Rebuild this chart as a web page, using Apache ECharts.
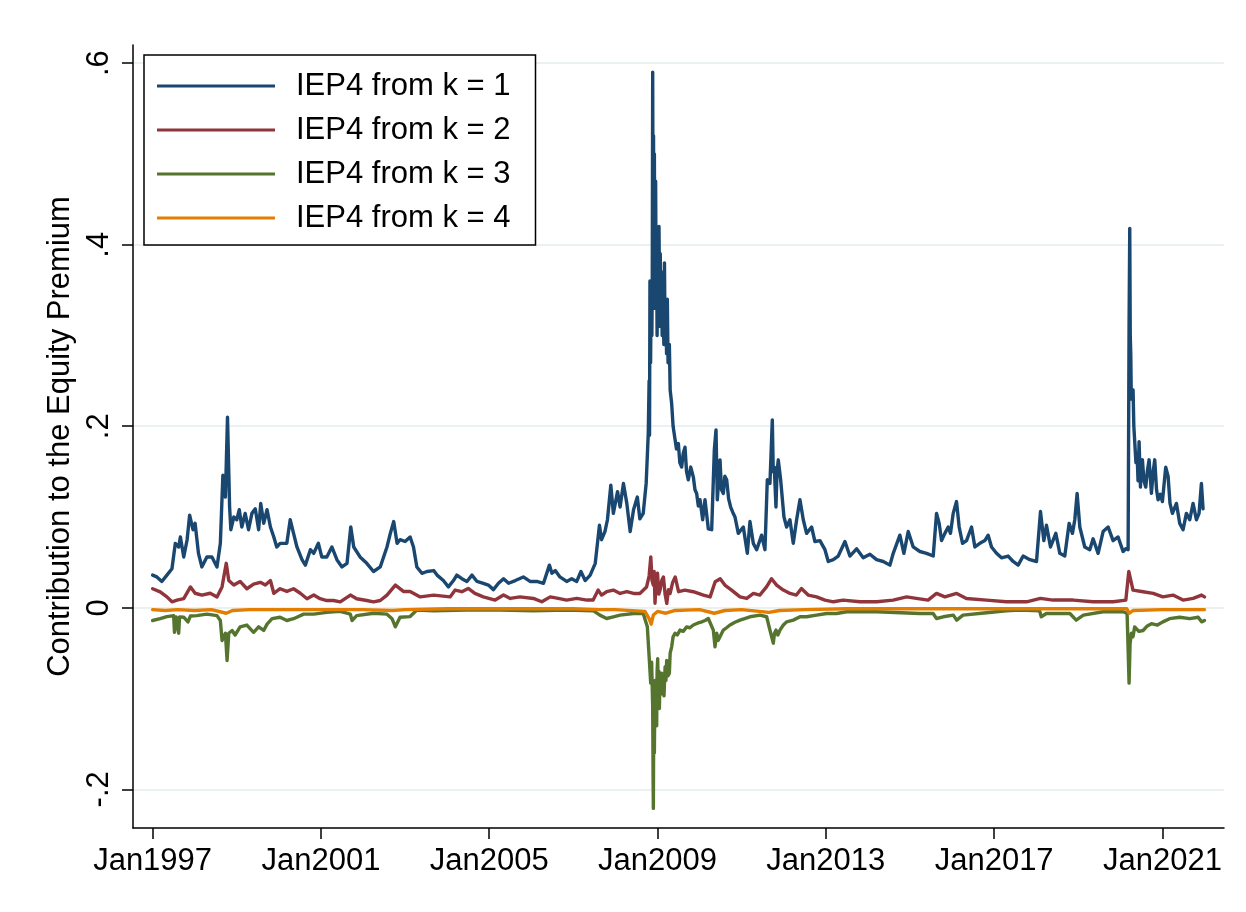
<!DOCTYPE html>
<html>
<head>
<meta charset="utf-8">
<script src="https://cdn.jsdelivr.net/npm/echarts@6/dist/echarts.min.js"></script>
<style>
html,body{margin:0;padding:0;background:#fff;}
#chart{width:1246px;height:912px;}
</style>
</head>
<body>
<div id="chart"></div>
<script>
// ---- DATA (year as decimal, value) ----
var seriesNames = ["IEP4 from k = 1", "IEP4 from k = 2", "IEP4 from k = 3", "IEP4 from k = 4"];
var xTickYears = [1997, 2001, 2005, 2009, 2013, 2017, 2021];
var yTicks = [-0.2, 0, 0.2, 0.4, 0.6];

var k1 = [
[1997.00,.036],[1997.10,.034],[1997.22,.029],[1997.34,.036],[1997.46,.043],[1997.54,.071],[1997.62,.067],[1997.66,.078],[1997.74,.056],[1997.82,.075],[1997.88,.102],[1997.96,.086],[1998.01,.093],[1998.09,.060],[1998.17,.045],[1998.29,.056],[1998.41,.056],[1998.53,.045],[1998.61,.071],[1998.67,.146],[1998.73,.122],[1998.78,.210],[1998.83,.111],[1998.86,.086],[1998.93,.100],[1999.00,.097],[1999.06,.108],[1999.12,.089],[1999.20,.104],[1999.28,.086],[1999.36,.104],[1999.44,.109],[1999.52,.086],[1999.57,.115],[1999.64,.093],[1999.72,.108],[1999.80,.089],[1999.88,.078],[1999.95,.067],[2000.03,.071],[2000.19,.071],[2000.27,.097],[2000.35,.082],[2000.43,.067],[2000.55,.053],[2000.63,.047],[2000.75,.064],[2000.83,.060],[2000.94,.071],[2001.02,.056],[2001.14,.056],[2001.26,.067],[2001.38,.053],[2001.50,.045],[2001.62,.049],[2001.71,.089],[2001.78,.067],[2001.93,.056],[2002.09,.049],[2002.25,.040],[2002.41,.045],[2002.57,.067],[2002.65,.082],[2002.73,.095],[2002.81,.071],[2002.88,.075],[2003.00,.073],[2003.12,.078],[2003.20,.067],[2003.28,.045],[2003.40,.038],[2003.52,.040],[2003.68,.041],[2003.76,.036],[2003.91,.030],[2004.03,.023],[2004.15,.030],[2004.23,.036],[2004.35,.032],[2004.47,.029],[2004.59,.036],[2004.71,.029],[2004.86,.027],[2004.98,.025],[2005.10,.020],[2005.22,.027],[2005.34,.032],[2005.46,.027],[2005.62,.030],[2005.81,.034],[2005.97,.029],[2006.13,.029],[2006.29,.027],[2006.43,.047],[2006.49,.038],[2006.57,.041],[2006.68,.034],[2006.84,.029],[2006.96,.032],[2007.08,.029],[2007.18,.040],[2007.28,.030],[2007.40,.036],[2007.52,.049],[2007.62,.091],[2007.67,.075],[2007.75,.084],[2007.81,.097],[2007.89,.135],[2007.95,.104],[2008.05,.128],[2008.11,.111],[2008.19,.137],[2008.27,.115],[2008.35,.084],[2008.43,.108],[2008.52,.122],[2008.58,.098],[2008.66,.104],[2008.73,.137],[2008.78,.192],[2008.80,.250],[2008.81,.190],[2008.82,.360],[2008.835,.270],[2008.85,.360],[2008.865,.300],[2008.875,.360],[2008.885,.590],[2008.895,.400],[2008.905,.520],[2008.915,.360],[2008.925,.500],[2008.94,.330],[2008.955,.470],[2008.965,.360],[2008.975,.420],[2008.99,.300],[2009.005,.380],[2009.02,.310],[2009.035,.420],[2009.05,.330],[2009.065,.390],[2009.08,.310],[2009.095,.370],[2009.11,.300],[2009.13,.360],[2009.15,.290],[2009.165,.380],[2009.18,.290],[2009.20,.320],[2009.215,.280],[2009.233,.340],[2009.25,.270],[2009.281,.290],[2009.30,.240],[2009.336,.225],[2009.37,.200],[2009.416,.199],[2009.45,.175],[2009.495,.181],[2009.53,.160],[2009.574,.155],[2009.61,.170],[2009.653,.177],[2009.69,.150],[2009.732,.141],[2009.79,.155],[2009.851,.144],[2009.89,.130],[2009.93,.126],[2009.97,.112],[2010.01,.119],[2010.073,.097],[2010.128,.119],[2010.207,.087],[2010.287,.086],[2010.35,.174],[2010.39,.196],[2010.421,.119],[2010.485,.163],[2010.52,.130],[2010.564,.126],[2010.60,.145],[2010.643,.141],[2010.69,.120],[2010.738,.111],[2010.79,.105],[2010.841,.100],[2010.92,.082],[2011.039,.089],[2011.134,.060],[2011.197,.095],[2011.276,.071],[2011.356,.064],[2011.474,.080],[2011.553,.064],[2011.609,.141],[2011.672,.137],[2011.728,.207],[2011.75,.150],[2011.775,.155],[2011.815,.111],[2011.84,.150],[2011.87,.163],[2011.926,.141],[2012.005,.100],[2012.068,.089],[2012.147,.097],[2012.226,.071],[2012.306,.097],[2012.385,.119],[2012.464,.097],[2012.543,.082],[2012.662,.089],[2012.741,.073],[2012.86,.074],[2012.979,.064],[2013.058,.051],[2013.177,.053],[2013.295,.057],[2013.454,.073],[2013.572,.057],[2013.731,.065],[2013.889,.055],[2014.048,.059],[2014.206,.053],[2014.364,.051],[2014.523,.047],[2014.602,.060],[2014.76,.080],[2014.855,.060],[2014.958,.084],[2015.077,.067],[2015.235,.062],[2015.394,.060],[2015.552,.057],[2015.631,.104],[2015.694,.093],[2015.75,.074],[2015.829,.082],[2015.908,.089],[2015.963,.082],[2016.027,.104],[2016.106,.117],[2016.169,.089],[2016.249,.071],[2016.344,.074],[2016.463,.089],[2016.542,.067],[2016.66,.071],[2016.779,.074],[2016.858,.080],[2016.938,.067],[2017.056,.060],[2017.175,.055],[2017.333,.057],[2017.452,.051],[2017.571,.047],[2017.69,.057],[2017.848,.053],[2018.007,.051],[2018.102,.106],[2018.181,.074],[2018.244,.091],[2018.339,.067],[2018.466,.082],[2018.561,.060],[2018.679,.057],[2018.782,.093],[2018.861,.082],[2018.917,.097],[2018.972,.126],[2019.036,.089],[2019.154,.067],[2019.273,.064],[2019.352,.076],[2019.471,.060],[2019.59,.084],[2019.709,.089],[2019.827,.074],[2019.946,.078],[2020.065,.062],[2020.128,.065],[2020.184,.064],[2020.207,.313],[2020.223,.418],[2020.235,.300],[2020.247,.280],[2020.26,.230],[2020.279,.229],[2020.302,.240],[2020.32,.200],[2020.342,.199],[2020.37,.160],[2020.397,.170],[2020.42,.140],[2020.445,.183],[2020.477,.133],[2020.50,.160],[2020.524,.163],[2020.56,.140],[2020.603,.133],[2020.64,.150],[2020.683,.163],[2020.738,.126],[2020.78,.150],[2020.817,.163],[2020.86,.130],[2020.896,.119],[2020.95,.125],[2020.999,.117],[2021.078,.155],[2021.134,.145],[2021.18,.115],[2021.237,.104],[2021.332,.115],[2021.411,.093],[2021.49,.086],[2021.569,.104],[2021.649,.097],[2021.728,.115],[2021.807,.097],[2021.87,.104],[2021.926,.137],[2021.965,.109]
];

var k2 = [
[1997.00,.021],[1997.18,.0175],[1997.34,.012],[1997.46,.0066],[1997.58,.0084],[1997.74,.010],[1997.90,.023],[1998.01,.016],[1998.17,.014],[1998.37,.016],[1998.53,.012],[1998.65,.023],[1998.75,.049],[1998.81,.030],[1998.93,.025],[1999.08,.029],[1999.24,.021],[1999.40,.026],[1999.56,.028],[1999.68,.025],[1999.80,.030],[1999.88,.016],[2000.03,.021],[2000.19,.018],[2000.35,.021],[2000.51,.016],[2000.67,.010],[2000.83,.014],[2000.98,.010],[2001.14,.008],[2001.30,.008],[2001.46,.0066],[2001.70,.014],[2001.85,.010],[2002.09,.008],[2002.25,.0066],[2002.41,.008],[2002.57,.014],[2002.77,.025],[2002.96,.018],[2003.12,.018],[2003.36,.012],[2003.68,.014],[2004.07,.012],[2004.19,.0195],[2004.35,.0177],[2004.50,.0213],[2004.66,.0158],[2004.86,.012],[2005.14,.0085],[2005.34,.014],[2005.50,.0103],[2005.73,.012],[2006.05,.0103],[2006.25,.0066],[2006.45,.012],[2006.64,.0103],[2006.84,.0085],[2007.08,.0103],[2007.32,.0085],[2007.47,.0085],[2007.59,.0195],[2007.67,.014],[2007.79,.0177],[2007.95,.0195],[2008.11,.0158],[2008.27,.0177],[2008.43,.0158],[2008.58,.0158],[2008.74,.023],[2008.80,.035],[2008.84,.056],[2008.87,.030],[2008.90,.025],[2008.92,.040],[2008.94,.005],[2008.97,.030],[2009.00,.038],[2009.03,.015],[2009.06,.0195],[2009.10,.030],[2009.14,.034],[2009.18,.015],[2009.22,.0048],[2009.26,.020],[2009.30,.0158],[2009.36,.028],[2009.42,.034],[2009.50,.0177],[2009.65,.0195],[2009.85,.0177],[2010.09,.014],[2010.25,.012],[2010.37,.0287],[2010.49,.032],[2010.60,.025],[2010.76,.0195],[2010.96,.012],[2011.12,.0103],[2011.28,.0158],[2011.43,.014],[2011.59,.023],[2011.71,.032],[2011.83,.025],[2011.99,.0195],[2012.15,.0158],[2012.30,.014],[2012.42,.0213],[2012.58,.014],[2012.78,.012],[2012.98,.0085],[2013.18,.0066],[2013.41,.0085],[2013.81,.0066],[2014.21,.0066],[2014.60,.0085],[2014.92,.012],[2015.15,.0103],[2015.43,.0085],[2015.63,.0158],[2015.83,.012],[2016.11,.0158],[2016.34,.0103],[2016.82,.0085],[2017.29,.0066],[2017.77,.0066],[2018.10,.0103],[2018.40,.0085],[2018.88,.0085],[2019.35,.0066],[2019.83,.0066],[2020.13,.0085],[2020.20,.040],[2020.30,.0195],[2020.54,.0177],[2020.78,.0158],[2021.01,.012],[2021.25,.014],[2021.49,.0085],[2021.73,.0103],[2021.93,.014],[2022.00,.012]
];

var k3 = [
[1997.00,-.014],[1997.18,-.012],[1997.34,-.0097],[1997.50,-.0086],[1997.52,-.027],[1997.56,-.010],[1997.62,-.028],[1997.64,-.010],[1997.74,-.0104],[1997.84,-.0156],[1997.90,-.009],[1998.05,-.0086],[1998.29,-.007],[1998.53,-.0086],[1998.61,-.014],[1998.65,-.036],[1998.73,-.028],[1998.77,-.058],[1998.81,-.028],[1998.89,-.025],[1998.96,-.030],[1999.08,-.021],[1999.24,-.019],[1999.40,-.027],[1999.52,-.021],[1999.64,-.025],[1999.72,-.018],[1999.84,-.012],[2000.03,-.0104],[2000.19,-.014],[2000.35,-.012],[2000.59,-.007],[2000.83,-.007],[2001.14,-.005],[2001.46,-.004],[2001.70,-.007],[2001.74,-.014],[2001.85,-.0086],[2002.25,-.006],[2002.57,-.007],[2002.69,-.012],[2002.77,-.021],[2002.88,-.0104],[2003.12,-.0097],[2003.28,-.0025],[2003.68,-.0032],[2004.47,-.0025],[2005.26,-.0025],[2006.05,-.0032],[2006.84,-.0025],[2007.47,-.0032],[2007.63,-.0081],[2007.79,-.0118],[2007.95,-.0099],[2008.11,-.0081],[2008.43,-.0063],[2008.66,-.0063],[2008.703,-.008],[2008.758,-.021],[2008.806,-.058],[2008.838,-.083],[2008.86,-.060],[2008.885,-.109],[2008.895,-.190],[2008.901,-.221],[2008.91,-.120],[2008.925,-.160],[2008.94,-.080],[2008.955,-.120],[2008.964,-.094],[2008.98,-.130],[2008.99,-.070],[2009.004,-.056],[2009.02,-.100],[2009.035,-.070],[2009.044,-.111],[2009.06,-.075],[2009.08,-.095],[2009.099,-.072],[2009.12,-.090],[2009.154,-.097],[2009.18,-.065],[2009.20,-.080],[2009.218,-.058],[2009.25,-.075],[2009.281,-.072],[2009.30,-.050],[2009.336,-.043],[2009.37,-.032],[2009.416,-.028],[2009.47,-.030],[2009.535,-.0246],[2009.61,-.026],[2009.693,-.021],[2009.77,-.022],[2009.851,-.019],[2009.95,-.017],[2010.049,-.0155],[2010.13,-.014],[2010.207,-.0118],[2010.326,-.0246],[2010.366,-.043],[2010.406,-.028],[2010.44,-.036],[2010.485,-.032],[2010.564,-.0246],[2010.64,-.022],[2010.722,-.019],[2010.84,-.016],[2010.96,-.0136],[2011.197,-.0099],[2011.435,-.0081],[2011.593,-.0099],[2011.672,-.0246],[2011.751,-.039],[2011.78,-.028],[2011.815,-.0246],[2011.86,-.030],[2011.91,-.0246],[2011.99,-.019],[2012.068,-.0155],[2012.226,-.0136],[2012.385,-.0099],[2012.543,-.0099],[2012.78,-.0081],[2013.018,-.0063],[2013.256,-.0063],[2013.493,-.0044],[2013.81,-.0044],[2014.206,-.0044],[2015.235,-.0063],[2015.55,-.0063],[2015.63,-.0118],[2015.79,-.0099],[2016.03,-.0081],[2016.11,-.0136],[2016.26,-.0081],[2016.82,-.0055],[2017.29,-.0032],[2017.61,-.0025],[2018.08,-.0032],[2018.12,-.0099],[2018.24,-.0063],[2018.80,-.0063],[2018.95,-.0136],[2019.12,-.0081],[2019.59,-.0044],[2020.07,-.0044],[2020.16,-.0063],[2020.207,-.083],[2020.23,-.040],[2020.26,-.028],[2020.30,-.032],[2020.34,-.021],[2020.44,-.026],[2020.54,-.025],[2020.64,-.020],[2020.74,-.0175],[2020.88,-.019],[2021.01,-.0155],[2021.17,-.012],[2021.41,-.0104],[2021.65,-.012],[2021.85,-.0104],[2021.93,-.0155],[2022.00,-.014]
];

var k4 = [
[1997.00,-.002],[1997.30,-.003],[1997.60,-.002],[1998.00,-.003],[1998.40,-.002],[1998.75,-.006],[1998.90,-.003],[1999.30,-.002],[2000.00,-.002],[2001.00,-.002],[2002.00,-.002],[2002.70,-.003],[2003.00,-.002],[2004.00,-.001],[2005.00,-.001],[2006.00,-.001],[2007.00,-.001],[2007.60,-.002],[2008.00,-.002],[2008.70,-.004],[2008.80,-.012],[2008.85,-.018],[2008.90,-.008],[2009.00,-.004],[2009.20,-.006],[2009.40,-.003],[2010.00,-.002],[2010.35,-.006],[2010.60,-.003],[2011.00,-.002],[2011.65,-.005],[2011.90,-.003],[2012.50,-.002],[2013.50,-.001],[2015.00,-.001],[2017.00,-.001],[2019.00,-.001],[2020.15,-.001],[2020.21,-.006],[2020.30,-.003],[2021.00,-.002],[2022.00,-.002]
];

// ---- CHART ----
var FONT = "'Liberation Sans', Arial, sans-serif";
var colors = ['#1a476f', '#90353b', '#55752f', '#e37e00'];
var allData = [k1, k2, k3, k4];

var chart = echarts.init(document.getElementById('chart'), null, {renderer: 'canvas'});
chart.setOption({
  backgroundColor: '#ffffff',
  animation: false,
  color: colors,
  textStyle: {fontFamily: FONT, color: '#000'},
  grid: {left: 133, right: 22, top: 45, bottom: 84, containLabel: false},
  legend: {
    data: seriesNames,
    orient: 'vertical',
    left: 144, top: 55,
    backgroundColor: '#fff',
    borderColor: '#000', borderWidth: 1.5,
    padding: [14, 25, 10, 13],
    itemGap: 10,
    icon: 'rect',
    itemWidth: 118, itemHeight: 3,
    textStyle: {fontSize: 31, lineHeight: 34, color: '#000', fontFamily: FONT, padding: [0, 0, 0, 16]}
  },
  xAxis: {
    type: 'value',
    min: 1996.534, max: 2022.463,
    axisLine: {show: true, onZero: false, lineStyle: {color: '#000', width: 1.5}},
    axisTick: {show: true, length: 11, lineStyle: {color: '#000', width: 1.5}, customValues: xTickYears},
    axisLabel: {customValues: xTickYears, fontSize: 31, color: '#000', fontFamily: FONT, margin: 18,
      formatter: function (v) { return 'Jan' + Math.round(v); }},
    splitLine: {show: false}
  },
  yAxis: {
    type: 'value',
    min: -0.2426, max: 0.62,
    name: 'Contribution to the Equity Premium',
    nameLocation: 'middle', nameRotate: 90, nameGap: 57,
    nameTextStyle: {fontSize: 31, color: '#000', fontFamily: FONT},
    axisLine: {show: true, onZero: false, lineStyle: {color: '#000', width: 1.5}},
    axisTick: {show: true, length: 11, lineStyle: {color: '#000', width: 1.5}, customValues: yTicks},
    axisLabel: {customValues: yTicks, fontSize: 31, color: '#000', fontFamily: FONT, rotate: 90, margin: 18,
      formatter: function (v) {
        if (Math.abs(v) < 1e-9) return '0';
        var s = Math.abs(v).toFixed(1).replace(/^0/, '');
        return (v < 0 ? '-' : '') + s;
      }},
    splitLine: {show: true, lineStyle: {color: '#eaf1f3', width: 2}}
  },
  series: allData.map(function (d, i) {
    return {
      name: seriesNames[i],
      type: 'line',
      data: d,
      showSymbol: false, symbol: 'none',
      lineStyle: {width: 3.4, color: colors[i], join: 'round', cap: 'round'},
      itemStyle: {color: colors[i]},
      z: 2 + i
    };
  })
});
</script>
</body>
</html>
